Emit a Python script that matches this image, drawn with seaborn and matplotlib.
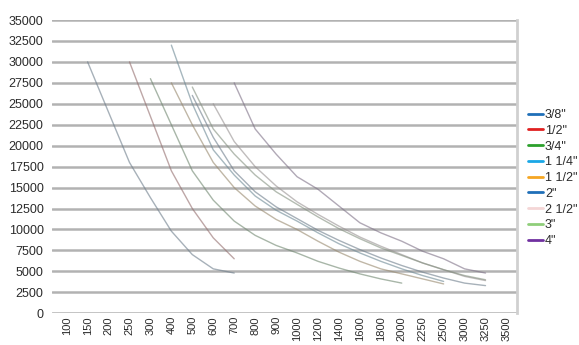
import numpy as np
import pandas as pd
import matplotlib
matplotlib.use('Agg')
import matplotlib.pyplot as plt
import seaborn as sns
from matplotlib.lines import Line2D
from matplotlib.colors import to_rgb

nan = np.nan

categories = ['100', '150', '200', '250', '300', '400', '500', '600', '700', '800', '900',
              '1000', '1200', '1400', '1600', '1800', '2000', '2250', '2500', '3000',
              '3250', '3500']

sizes = ['3/8"', '1/2"', '3/4"', '1 1/4"', '1 1/2"', '2"', '2 1/2"', '3"', '4"']
colors = ['#1f6fb8', '#e02020', '#2ca02c', '#1aa7e6', '#f5a623', '#1f6fb8', '#f4d6d6', '#8fce7a', '#7030a0']

v_38 = [nan, 30000, 24000, 18000, 13800, 9800, 7000, 5300, 4800] + [nan] * 13
v_12 = [nan, nan, nan, 30000, 23500, 17000, 12500, 9000, 6500] + [nan] * 13
v_34 = [nan] * 4 + [28000, 22500, 17000, 13500, 11000, 9300, 8100, 7200, 6200, 5400, 4700, 4100, 3600] + [nan] * 5
v_114 = [nan] * 5 + [32000, 25000, 19500, 16500, 14000, 12300, 11000, 9600, 8300, 7200, 6200, 5300, 4500, 3800] + [nan] * 3
v_112 = [nan] * 5 + [27500, 22500, 18000, 15000, 12800, 11200, 10000, 8600, 7300, 6200, 5300, 4700, 4100, 3500] + [nan] * 3
v_2 = [nan] * 6 + [26000, 21000, 17000, 14500, 12700, 11300, 9900, 8700, 7600, 6600, 5700, 4900, 4200, 3600, 3300] + [nan]
v_212 = [nan] * 7 + [25000, 20500, 17500, 15200, 13300, 11800, 10400, 9100, 8000, 7000, 6000, 5200, 4400, 3900] + [nan]
v_3 = [nan] * 6 + [27000, 22000, 19000, 16500, 14500, 13000, 11500, 10100, 8900, 7800, 6900, 6000, 5200, 4500, 4000] + [nan]
v_4 = [nan] * 8 + [27500, 22000, 19000, 16300, 14800, 12800, 10800, 9600, 8600, 7400, 6500, 5300, 4800] + [nan]

all_values = [v_38, v_12, v_34, v_114, v_112, v_2, v_212, v_3, v_4]

rows = []
for name, vals in zip(sizes, all_values):
    for i, v in enumerate(vals):
        if not np.isnan(v):
            rows.append({'pos': i, 'flow': v, 'size': name})
df = pd.DataFrame(rows)

# the curves look washed out in the original: grey with a hint of colour
def faded(c):
    r = np.array(to_rgb(c))
    g = np.array(to_rgb('#808080'))
    return tuple(0.2 * r + 0.8 * g)

palette = {s: faded(c) for s, c in zip(sizes, colors)}

sns.set_style('white')
plt.rcParams['font.family'] = ['Liberation Sans', 'DejaVu Sans']

fig = plt.figure(figsize=(5.79, 3.45), dpi=100)
ax = fig.add_axes([0.0898, 0.092, 0.803, 0.85])

sns.lineplot(data=df, x='pos', y='flow', hue='size', palette=palette, hue_order=sizes,
             linewidth=1.0, alpha=0.6, legend=False, ax=ax, estimator=None, sort=True)

ax.set_ylim(0, 35000)
ax.set_xlim(-0.7, 21.5)
yt = np.arange(0, 35001, 2500)
ax.set_yticks(yt)
ax.set_yticklabels([str(int(t)) for t in yt], fontsize=9, color='#2b2b2b')
ax.set_xticks(range(len(categories)))
ax.set_xticklabels(categories, rotation=90, fontsize=8, color='#2b2b2b')
ax.tick_params(axis='y', length=0, pad=6)
ax.tick_params(axis='x', length=0, pad=2)
ax.set_xlabel('')
ax.set_ylabel('')

ax.yaxis.grid(True, color='#b2b2b2', linewidth=1.8)
ax.xaxis.grid(False)
ax.set_axisbelow(True)
for side in ['top', 'left', 'bottom']:
    ax.spines[side].set_visible(False)
ax.spines['right'].set_color('#d0d0d0')
ax.spines['right'].set_linewidth(2)

handles = [Line2D([0], [0], color=c, linewidth=2) for c in colors]
fig.legend(handles, sizes, loc='center left', bbox_to_anchor=(0.912, 0.484), frameon=False,
           fontsize=9, handlelength=1.2, handletextpad=0.15, labelspacing=0.3,
           borderaxespad=0, borderpad=0, labelcolor='#2b2b2b')

fig.savefig('out.png', dpi=100)
